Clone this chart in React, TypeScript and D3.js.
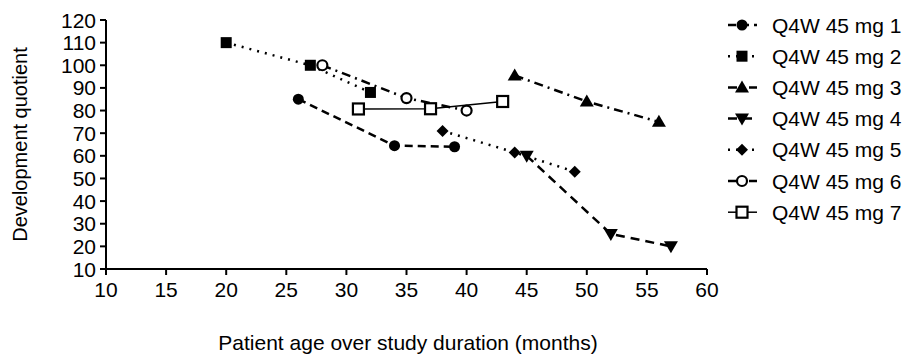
import React from "react";
import * as d3 from "d3";

const seriesNames = [
  "Q4W 45 mg 1",
  "Q4W 45 mg 2",
  "Q4W 45 mg 3",
  "Q4W 45 mg 4",
  "Q4W 45 mg 5",
  "Q4W 45 mg 6",
  "Q4W 45 mg 7",
];

const ages1 = [26, 34, 39];
const dq1 = [85, 64.5, 64];
const ages2 = [20, 27, 32];
const dq2 = [110, 100, 88];
const ages3 = [44, 50, 56];
const dq3 = [95.5, 84, 75];
const ages4 = [45, 52, 57];
const dq4 = [60, 25.5, 20];
const ages5 = [38, 44, 49];
const dq5 = [71, 61.5, 53];
const ages6 = [28, 35, 40];
const dq6 = [100, 85.5, 80];
const ages7 = [31, 37, 43];
const dq7 = [80.7, 80.8, 84];

const xTicks = [10, 15, 20, 25, 30, 35, 40, 45, 50, 55, 60];
const yTicks = [10, 20, 30, 40, 50, 60, 70, 80, 90, 100, 110, 120];

const allAges = [ages1, ages2, ages3, ages4, ages5, ages6, ages7];
const allDq = [dq1, dq2, dq3, dq4, dq5, dq6, dq7];

const markers = ["circle", "square", "triUp", "triDown", "diamond", "openCircle", "openSquare"];
const dashes = ["8,5", "2,6", "9,5,2,5", "9,6", "2,6", "9,5,2,5", null];

const FONT = "'Liberation Sans', Arial, sans-serif";

function Marker({ type, x, y }: { type: string; x: number; y: number }) {
  switch (type) {
    case "circle":
      return <circle cx={x} cy={y} r={5.5} fill="#000" />;
    case "square":
      return <rect x={x - 5.5} y={y - 5.5} width={11} height={11} fill="#000" />;
    case "triUp":
      return <path d={`M${x},${y - 7}L${x + 7},${y + 5}L${x - 7},${y + 5}Z`} fill="#000" />;
    case "triDown":
      return <path d={`M${x},${y + 7}L${x + 7},${y - 5}L${x - 7},${y - 5}Z`} fill="#000" />;
    case "diamond":
      return <path d={`M${x},${y - 6}L${x + 6},${y}L${x},${y + 6}L${x - 6},${y}Z`} fill="#000" />;
    case "openCircle":
      return <circle cx={x} cy={y} r={5} fill="#fff" stroke="#000" strokeWidth={2.2} />;
    default:
      return (
        <rect x={x - 5.5} y={y - 5.5} width={11} height={11} fill="#fff" stroke="#000" strokeWidth={2.2} />
      );
  }
}

export default function App() {
  const width = 906;
  const height = 355;
  const x = d3.scaleLinear().domain([10, 60]).range([106, 707]);
  const y = d3.scaleLinear().domain([10, 120]).range([269, 20]);

  const line = d3
    .line<[number, number]>()
    .x((d) => x(d[0]))
    .y((d) => y(d[1]));

  return (
    <svg
      width={width}
      height={height}
      style={{ position: "absolute", left: 0, top: 0, background: "#fff" }}
      fontFamily={FONT}
    >
      {/* axes */}
      <line x1={x(10)} x2={x(60)} y1={y(10)} y2={y(10)} stroke="#000" strokeWidth={2} />
      <line x1={x(10)} x2={x(10)} y1={y(10)} y2={y(120)} stroke="#000" strokeWidth={2} />
      {xTicks.map((t) => (
        <g key={"x" + t}>
          <line x1={x(t)} x2={x(t)} y1={y(10)} y2={y(10) + 6} stroke="#000" strokeWidth={2} />
          <text x={x(t)} y={y(10) + 28} textAnchor="middle" fontSize={21}>
            {t}
          </text>
        </g>
      ))}
      {yTicks.map((t) => (
        <g key={"y" + t}>
          <line x1={x(10) - 6} x2={x(10)} y1={y(t)} y2={y(t)} stroke="#000" strokeWidth={2} />
          <text x={x(10) - 10} y={y(t)} dy="0.36em" textAnchor="end" fontSize={21}>
            {t}
          </text>
        </g>
      ))}
      <text x={408} y={350} textAnchor="middle" fontSize={21}>
        Patient age over study duration (months)
      </text>
      <text
        transform={`translate(27,${y(65)}) rotate(-90)`}
        textAnchor="middle"
        fontSize={20}
      >
        Development quotient
      </text>

      {/* series */}
      {allAges.map((ages, i) => {
        const pts = ages.map((a, j) => [a, allDq[i][j]] as [number, number]);
        return (
          <g key={"s" + i}>
            <path
              d={line(pts) || ""}
              fill="none"
              stroke="#000"
              strokeWidth={i === 6 ? 1.5 : 2.5}
              strokeDasharray={dashes[i] || undefined}
            />
            {pts.map((p, j) => (
              <Marker key={j} type={markers[i]} x={x(p[0])} y={y(p[1])} />
            ))}
          </g>
        );
      })}

      {/* legend */}
      {seriesNames.map((name, i) => {
        const ly = 25 + i * 31.2;
        return (
          <g key={"l" + i}>
            <line
              x1={728}
              x2={757}
              y1={ly}
              y2={ly}
              stroke="#000"
              strokeWidth={i === 6 ? 1.5 : 2.5}
              strokeDasharray={dashes[i] || undefined}
            />
            <Marker type={markers[i]} x={742} y={ly} />
            <text x={772} y={ly} dy="0.36em" fontSize={21}>
              {name}
            </text>
          </g>
        );
      })}
    </svg>
  );
}
